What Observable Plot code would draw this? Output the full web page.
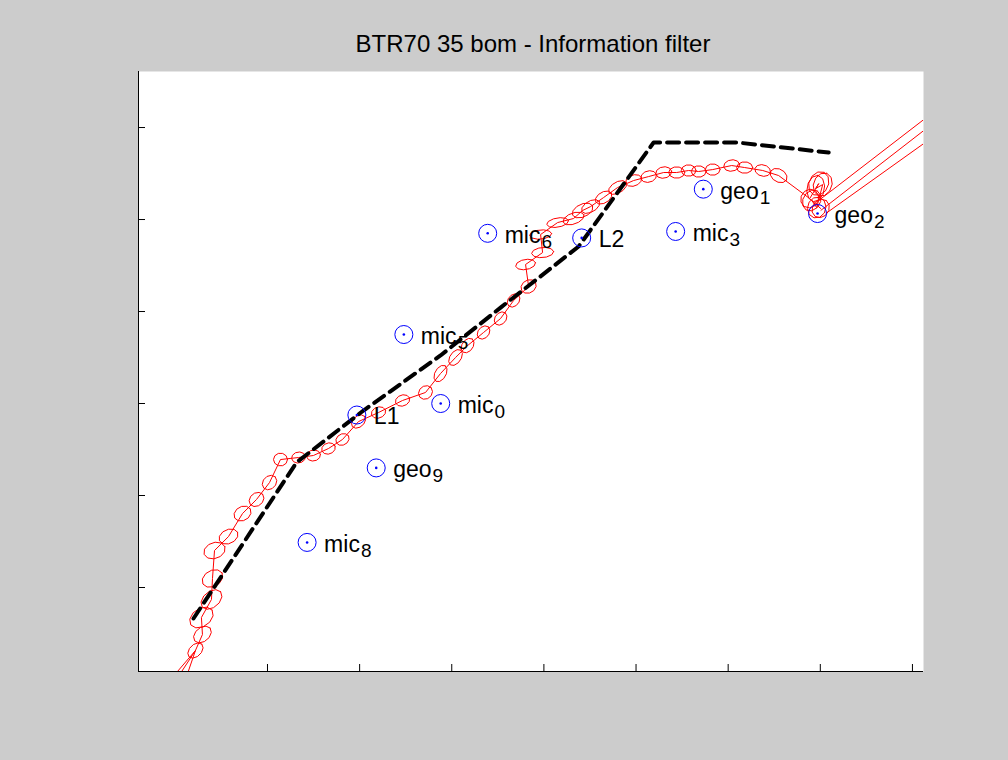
<!DOCTYPE html>
<html>
<head>
<meta charset="utf-8">
<script src="https://cdn.jsdelivr.net/npm/d3@7"></script>
<script src="https://cdn.jsdelivr.net/npm/@observablehq/plot@0.6"></script>
<style>
html, body { margin: 0; padding: 0; background: #cccccc; }
#wrap { width: 1008px; height: 760px; overflow: hidden; background: #cccccc; }
#title { height: 60px; box-sizing: border-box; padding-top: 32px; padding-left: 138px; width: 928px; text-align: center;
  font: 24px "Liberation Sans", Arial, Helvetica, sans-serif; line-height: 24px; color: #000; white-space: nowrap; }
#chart svg { display: block; }
</style>
</head>
<body>
<div id="wrap">
  <div id="title">BTR70 35 bom - Information filter</div>
  <div id="chart"></div>
</div>
<script>
// ---- axis ticks (no labels in the original) ----
const xTicks = [0, 10, 20, 30, 40, 50, 60, 70];
const yTicks = [0, 10, 20, 30, 40, 50];

// ---- sensors ----
const sensorNames = ["mic", "geo", "L1", "mic", "mic", "mic", "L2", "mic", "geo", "geo"];
const sensorSubs  = ["8", "9", "", "0", "5", "6", "", "3", "1", "2"];
const sensorX = [4.3, 11.8, 9.7, 18.8, 14.8, 23.9, 34.1, 44.3, 47.3, 59.7];
const sensorY = [4.9, 13.0, 18.75, 20.0, 27.5, 38.5, 38.0, 38.7, 43.3, 40.65];

// ---- true route (dashed) ----
const routeX = [-8.03, 3.15, 10.42, 18.78, 25.3, 28.23, 33.77, 41.91, 51.03, 60.91];
const routeY = [-3.37, 13.59, 19.24, 25.22, 30.43, 32.72, 37.07, 48.37, 48.37, 47.28];

// ---- filter track estimates ----
const trackX = [-7.82, -7.06, -7.17, -6.08, -5.97, -5.75, -4.23, -2.71, -1.19, 0.22,
  1.41, 3.37, 4.99, 6.62, 8.14, 9.88, 12.05, 14.66, 17.15, 18.78,
  20.41, 21.72, 23.45, 25.3, 26.71, 28.34, 28.01, 29.86, 29.64, 31.49,
  33.22, 34.2, 35.07, 36.48, 38.0, 39.74, 41.37, 43.0, 44.41, 45.71,
  46.8, 48.32, 50.38, 51.79, 53.75, 55.48,
  58.85, 59.83, 59.5, 60.26, 59.61, 59.07, 60.04];
const trackY = [-6.85, -5.11, -3.26, -1.3, 0.98, 4.02, 5.54, 8.04, 9.57, 11.41,
  13.91, 14.13, 14.35, 15.11, 16.09, 18.04, 19.02, 20.33, 21.2, 23.26,
  25.0, 26.3, 27.72, 29.24, 31.2, 32.72, 35.11, 36.41, 38.37, 39.67,
  40.11, 40.98, 41.41, 42.39, 43.48, 44.24, 44.67, 45.11, 45.11, 45.33,
  45.22, 45.43, 45.87, 45.65, 45.33, 44.78,
  42.28, 43.91, 43.37, 43.8, 41.3, 42.07, 41.2];
// covariance ellipse semi-axes and orientation (deg)
const ellRx = [0.98, 1.09, 1.41, 1.3, 1.2, 1.2, 1.09, 0.98, 0.87, 0.87,
  0.76, 0.76, 0.76, 0.76, 0.76, 0.87, 0.8, 0.8, 0.8, 0.98,
  0.98, 0.87, 0.8, 0.8, 0.8, 0.87, 1.09, 1.2, 1.2, 1.2,
  1.2, 1.2, 1.09, 0.98, 1.09, 0.9, 0.87, 0.87, 0.87, 0.8,
  0.8, 0.8, 0.87, 0.87, 0.87, 0.98,
  1.05, 1.35, 1.45, 1.3, 1.15, 1.2, 1.05];
const ellRy = [0.65, 0.76, 0.98, 0.87, 0.87, 0.87, 0.76, 0.76, 0.7, 0.7,
  0.7, 0.6, 0.6, 0.6, 0.6, 0.6, 0.6, 0.6, 0.7, 0.6,
  0.6, 0.6, 0.6, 0.6, 0.6, 0.7, 0.55, 0.55, 0.5, 0.5,
  0.6, 0.7, 0.6, 0.6, 0.6, 0.6, 0.62, 0.62, 0.62, 0.62,
  0.62, 0.62, 0.62, 0.62, 0.62, 0.7,
  0.95, 1.05, 0.95, 1.0, 1.0, 0.95, 0.9];
const ellAng = [45, 40, 35, 40, 30, 20, 25, 30, 40, 45,
  0, 10, 10, 20, 30, 40, 20, 20, 40, 60,
  55, 55, 50, 50, 50, 30, 10, 5, 5, 10,
  20, 25, 30, 30, 30, 20, 15, 10, 0, 0,
  0, 0, 10, 0, -15, -30,
  55, 65, 80, 70, 75, 60, 55];

// track tails entering (bottom-left) and leaving (top-right)
const entryX = [-11.07, -10.31, -9.12];
const entryY = [-10.65, -10.65, -10.65];
const exitX0 = [59.83, 60.04, 60.59];
const exitY0 = [42.07, 40.98, 40.65];
const exitX1 = [75.24, 75.24, 75.24];
const exitY1 = [53.96, 52.79, 51.13];

// ---- tables built from the arrays ----
const sensors = sensorX.map((x, i) => ({x, y: sensorY[i], name: sensorNames[i], sub: sensorSubs[i]}));
const route = routeX.map((x, i) => ({x, y: routeY[i]}));
const track = trackX.map((x, i) => ({x, y: trackY[i]}));
const NSEG = 10;
const ellipses = [];
trackX.forEach((cx, i) => {
  const a = ellAng[i] * Math.PI / 180, cy = trackY[i];
  for (let k = 0; k <= NSEG; k++) {
    const t = 2 * Math.PI * k / NSEG;
    ellipses.push({
      id: i,
      x: cx + ellRx[i] * Math.cos(t) * Math.cos(a) - ellRy[i] * Math.sin(t) * Math.sin(a),
      y: cy + ellRx[i] * Math.cos(t) * Math.sin(a) + ellRy[i] * Math.sin(t) * Math.cos(a)
    });
  }
});
const entries = entryX.map((x, i) => ({x1: x, y1: entryY[i], x2: trackX[0], y2: trackY[0]}));
const exits = exitX0.map((x, i) => ({x1: x, y1: exitY0[i], x2: exitX1[i], y2: exitY1[i]}));

const xDom = [-14, 71.2], yDom = [-9.13, 56.09];
const FW = 785, FH = 600;

const chart = Plot.plot({
  width: 1008, height: 700,
  marginLeft: 138, marginRight: 85, marginTop: 11, marginBottom: 89,
  x: {domain: xDom, axis: null},
  y: {domain: yDom, axis: null},
  style: {background: "transparent", fontFamily: "'Liberation Sans', Arial, Helvetica, sans-serif", overflow: "visible"},
  marks: [
    Plot.frame({fill: "white", stroke: null}),
    Plot.ruleX([xDom[0]], {stroke: "#000", strokeWidth: 1}),
    Plot.ruleY([yDom[0]], {stroke: "#000", strokeWidth: 1}),
    Plot.tickX(xTicks, {x: d => d, insetTop: FH - 7, stroke: "#000"}),
    Plot.tickY(yTicks, {y: d => d, insetRight: FW - 7, stroke: "#000"}),
    Plot.link(entries, {x1: "x1", y1: "y1", x2: "x2", y2: "y2", stroke: "red", strokeWidth: 1, clip: true}),
    Plot.link(exits, {x1: "x1", y1: "y1", x2: "x2", y2: "y2", stroke: "red", strokeWidth: 1, clip: true}),
    Plot.line(track, {x: "x", y: "y", stroke: "red", strokeWidth: 1, clip: true}),
    Plot.line(ellipses, {x: "x", y: "y", z: "id", stroke: "red", strokeWidth: 1, clip: true}),
    Plot.line(route, {x: "x", y: "y", stroke: "black", strokeWidth: 4, strokeDasharray: "12,7"}),
    Plot.dot(sensors, {x: "x", y: "y", r: 9, stroke: "#0000ff", fill: "none", strokeWidth: 1}),
    Plot.dot(sensors, {x: "x", y: "y", r: 1.3, fill: "#0000ff", stroke: null}),
    Plot.text(sensors, {x: "x", y: "y", text: "name", textAnchor: "start", dx: 17, dy: 2, fontSize: 23, fill: "black"})
  ]
});
document.getElementById("chart").appendChild(chart);

// add subscripts as tspans
const labels = chart.querySelectorAll('g[aria-label="text"] text');
labels.forEach((el, i) => {
  const s = sensors[i].sub;
  if (!s) return;
  const ts = document.createElementNS("http://www.w3.org/2000/svg", "tspan");
  ts.setAttribute("dy", "5");
  ts.setAttribute("dx", "1");
  ts.setAttribute("font-size", "19");
  ts.textContent = s;
  el.appendChild(ts);
});
</script>
</body>
</html>
